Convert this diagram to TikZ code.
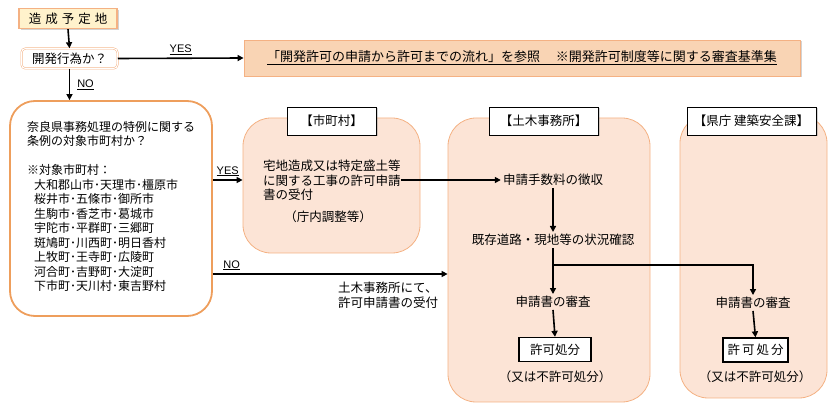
\documentclass[tikz,border=0pt]{standalone}
\usepackage{fontspec}
\setmainfont{Noto Sans CJK JP}
\newfontfamily\latinf{Liberation Sans}
\usetikzlibrary{arrows.meta,shadows}
\definecolor{peach}{HTML}{FCE4D6}
\definecolor{peachdark}{HTML}{F9D4B4}
\definecolor{orangeline}{HTML}{F4B183}
\definecolor{orangedeep}{HTML}{EE9E5C}
\definecolor{yellowfill}{HTML}{FFF2CC}
\begin{document}
\begin{tikzpicture}[x=1pt,y=-1pt,
  font=\fontsize{12.5}{14.5}\selectfont,
  shad/.style={drop shadow={opacity=0.35,shadow xshift=1.5pt,shadow yshift=-1.5pt}},
  ybox/.style={draw=orangeline,line width=1.4pt,fill=yellowfill,shad,inner sep=0pt,minimum width=98pt,minimum height=20pt},
  qbox/.style={draw=orangeline,line width=0.5pt,double=white,double distance=1pt,fill=white,rounded corners=4pt,inner sep=0pt,minimum width=96pt,minimum height=20pt},
  refbox/.style={draw=orangeline,line width=0.8pt,fill=peachdark,shad,inner sep=0pt,minimum width=556pt,minimum height=36pt},
  bigbox/.style={draw=orangedeep,line width=1.8pt,fill=white,rounded corners=25pt,inner sep=0pt},
  lanebox/.style={draw=orangeline,line width=0.8pt,fill=peach,rounded corners=28pt,inner sep=0pt},
  lanelabel/.style={draw=black,line width=0.8pt,fill=white,shad,inner sep=0pt,minimum height=28pt},
  permitbox/.style={draw=black,line width=1.3pt,fill=white,inner sep=0pt,minimum height=24pt},
  txt/.style={inner sep=2pt},
  arr/.style={line width=1.6pt,-{Triangle[length=6pt,width=6pt]}},
  yn/.style={font=\latinf\fontsize{11}{13}\selectfont,inner sep=1pt}
]
\useasboundingbox (0,0) rectangle (833,411);

% top
\node[ybox] (site) at (68,18.5) {造\hspace{4pt}成\hspace{4pt}予\hspace{4pt}定\hspace{4pt}地};
\node[qbox] (q1) at (69.5,58.5) {開発行為か？};
\node[refbox,font=\fontsize{13}{15}\selectfont] (ref) at (522,58) {\underline{「開発許可の申請から許可までの流れ」を参照\hspace{16pt}※開発許可制度等に関する審査基準集}};

% left decision box
\node[bigbox,minimum width=202pt,minimum height=215pt] (q2) at (111,208.5) {};
\node[anchor=north west,align=left,inner sep=0pt,font=\fontsize{12}{14.5}\selectfont] (q2text) at (27,121)
 {奈良県事務処理の特例に関する\\条例の対象市町村か？\\[14.5pt]
  ※対象市町村：\\
  \hspace*{7pt}大和郡山市･天理市･橿原市\\
  \hspace*{7pt}桜井市･五條市･御所市\\
  \hspace*{7pt}生駒市･香芝市･葛城市\\
  \hspace*{7pt}宇陀市･平群町･三郷町\\
  \hspace*{7pt}斑鳩町･川西町･明日香村\\
  \hspace*{7pt}上牧町･王寺町･広陵町\\
  \hspace*{7pt}河合町･吉野町･大淀町\\
  \hspace*{7pt}下市町･天川村･東吉野村};

% lanes
\node[lanebox,minimum width=177pt,minimum height=135pt] (city) at (331.5,185.5) {};
\node[lanebox,minimum width=202pt,minimum height=284pt] (doboku) at (549,260) {};
\node[lanebox,minimum width=147pt,minimum height=283pt] (pref) at (753.5,256.5) {};
\node[lanelabel,minimum width=89pt] (cityl) at (331.5,121) {【市町村】};
\node[lanelabel,minimum width=109pt] (dobokul) at (543.5,121) {【土木事務所】};
\node[lanelabel,minimum width=129pt] (prefl) at (751.5,121) {【県庁 建築安全課】};

% city contents
\node[anchor=north west,align=left,inner sep=0pt] (citytext) at (263,160)
 {宅地造成又は特定盛土等\\に関する工事の許可申請\\書の受付};
\node[txt] (cityadj) at (328,217) {（庁内調整等）};

% doboku contents
\node[txt] (fee) at (553,180) {申請手数料の徴収};
\node[txt] (check) at (553,240) {既存道路・現地等の状況確認};
\node[txt] (review1) at (553,302) {申請書の審査};
\node[permitbox,minimum width=72pt] (permit1) at (555,349.5) {許可処分};
\node[txt] (note1) at (555,377) {（又は不許可処分）};

% pref contents
\node[txt] (review2) at (753,303) {申請書の審査};
\node[permitbox,minimum width=65pt] (permit2) at (755.5,350) {許\hspace{2pt}可\hspace{2pt}処\hspace{2pt}分};
\node[txt] (note2) at (755,377) {（又は不許可処分）};

% NO receipt text
\node[anchor=north west,align=left,inner sep=0pt] (notext) at (338,282)
 {土木事務所にて、\\許可申請書の受付};

% row coordinates
\coordinate (yesrow) at (0,180);
\coordinate (norow) at (0,274);
\coordinate (branchrow) at (0,265);

% connectors
\draw[arr] (site.south) -- (q1.north);
\draw[arr] (q1.east) -- node[yn,above=2pt] {\underline{YES}} (ref.west);
\draw[arr] (q1.south) -- node[yn,right=6pt] {\underline{NO}} (q1.south |- q2.north);
\draw[arr] (q2.east |- yesrow) -- node[yn,above=2pt] {\underline{YES}} (city.west |- yesrow);
\draw[arr] (q2.east |- norow) -- node[yn,above=2pt,pos=0.08] {\underline{NO}} (doboku.west |- norow);
\draw[arr] (citytext.east |- fee) -- (fee.west);
\draw[arr] (fee.south) -- (check.north);
\draw[arr] (check.south) -- (review1.north);
\draw[arr] (check.south |- branchrow) -| (review2.north);
\draw[arr] (review1.south) -- (permit1.north);
\draw[arr] (review2.south) -- (permit2.north);
\end{tikzpicture}
\end{document}
